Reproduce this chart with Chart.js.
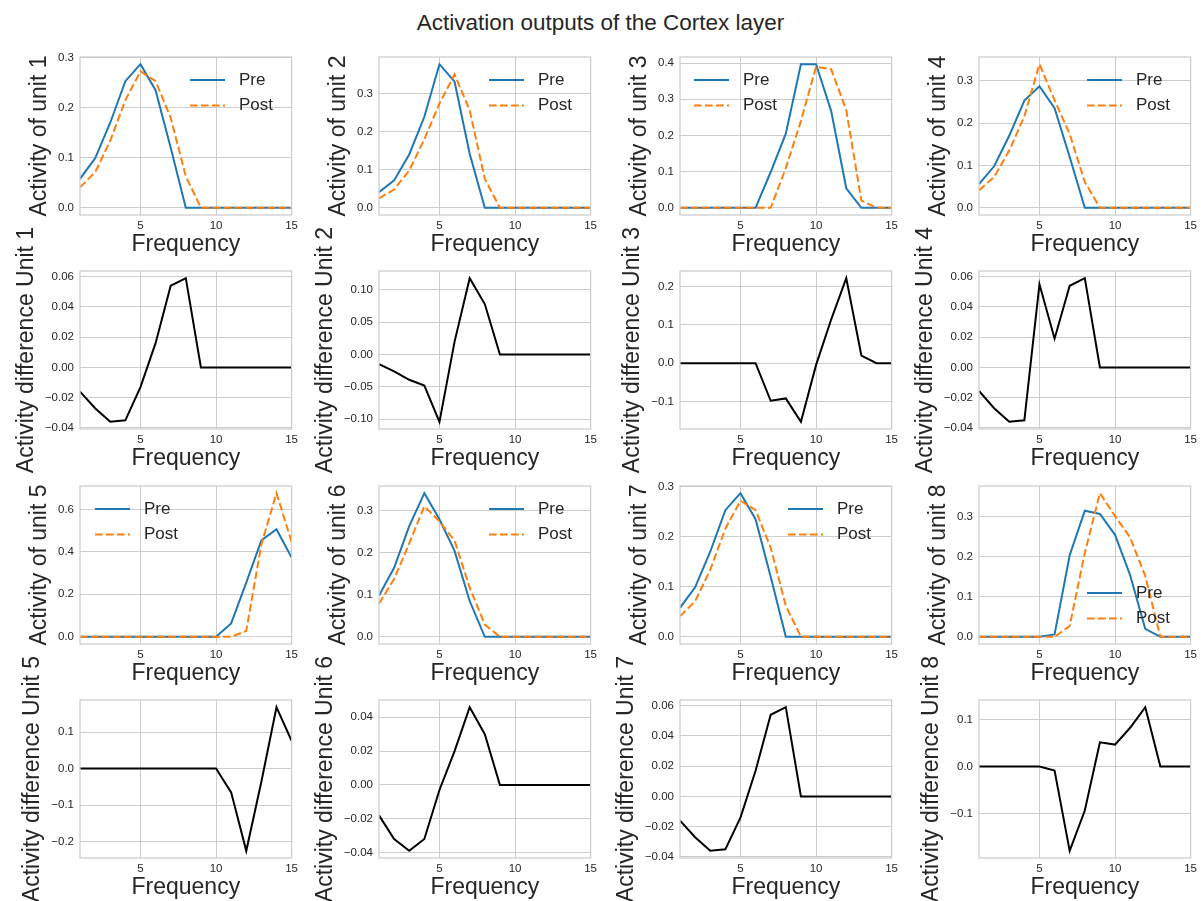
<!DOCTYPE html>
<html>
<head>
<meta charset="utf-8">
<title>Activation outputs of the Cortex layer</title>
<script src="https://cdn.jsdelivr.net/npm/chart.js@4.4.1/dist/chart.umd.min.js"></script>
<style>
    body { margin: 0; background: #fff; }
    #wrap { position: relative; width: 1201px; height: 901px; overflow: hidden; }
    #wrap canvas { position: absolute; }
    #title {
        position: absolute; left: 0; top: 10px; width: 1201px; text-align: center;
        font-family: "Liberation Sans", Arial, sans-serif; font-size: 22.5px; color: #262626;
    }
</style>
</head>
<body>
<div id="wrap"><div id="title">Activation outputs of the Cortex layer</div></div>
<script>
// Data
const freq = [1, 2, 3, 4, 5, 6, 7, 8, 9, 10, 11, 12, 13, 14, 15];

const pre1  = [0.058, 0.099, 0.17, 0.253, 0.287, 0.235, 0.12, 0, 0, 0, 0, 0, 0, 0, 0];
const post1 = [0.041, 0.071, 0.134, 0.215, 0.273, 0.253, 0.18, 0.063, 0, 0, 0, 0, 0, 0, 0];
const diff1 = [-0.016, -0.027, -0.036, -0.035, -0.013, 0.016, 0.054, 0.059, 0, 0, 0, 0, 0, 0, 0];

const pre2  = [0.041, 0.072, 0.14, 0.239, 0.377, 0.331, 0.142, 0, 0, 0, 0, 0, 0, 0, 0];
const post2 = [0.025, 0.048, 0.098, 0.18, 0.274, 0.35, 0.256, 0.076, 0, 0, 0, 0, 0, 0, 0];
const diff2 = [-0.015, -0.026, -0.039, -0.048, -0.104, 0.02, 0.118, 0.078, 0, 0, 0, 0, 0, 0, 0];

const pre3  = [0, 0, 0, 0, 0, 0, 0.099, 0.205, 0.397, 0.397, 0.268, 0.054, 0, 0, 0];
const post3 = [0, 0, 0, 0, 0, 0, 0, 0.11, 0.24, 0.39, 0.383, 0.27, 0.02, 0, 0];
const diff3 = [0, 0, 0, 0, 0, 0, -0.098, -0.092, -0.153, -0.005, 0.114, 0.222, 0.02, 0, 0];

const pre4  = [0.056, 0.098, 0.17, 0.253, 0.287, 0.235, 0.12, 0, 0, 0, 0, 0, 0, 0, 0];
const post4 = [0.041, 0.073, 0.135, 0.216, 0.339, 0.254, 0.174, 0.061, 0, 0, 0, 0, 0, 0, 0];
const diff4 = [-0.0156, -0.027, -0.036, -0.035, 0.055, 0.019, 0.054, 0.059, 0, 0, 0, 0, 0, 0, 0];

const pre5  = [0, 0, 0, 0, 0, 0, 0, 0, 0, 0, 0.063, 0.255, 0.454, 0.506, 0.373];
const post5 = [0, 0, 0, 0, 0, 0, 0, 0, 0, 0, 0, 0.028, 0.435, 0.676, 0.447];
const diff5 = [0, 0, 0, 0, 0, 0, 0, 0, 0, 0, -0.065, -0.225, -0.036, 0.168, 0.076];

const pre6  = [0.098, 0.164, 0.263, 0.341, 0.279, 0.204, 0.085, 0, 0, 0, 0, 0, 0, 0, 0];
const post6 = [0.079, 0.137, 0.222, 0.31, 0.274, 0.228, 0.117, 0.029, 0, 0, 0, 0, 0, 0, 0];
const diff6 = [-0.018, -0.032, -0.039, -0.032, -0.003, 0.02, 0.046, 0.03, 0, 0, 0, 0, 0, 0, 0];

const pre7  = [0.058, 0.099, 0.17, 0.253, 0.287, 0.235, 0.12, 0, 0, 0, 0, 0, 0, 0, 0];
const post7 = [0.041, 0.071, 0.134, 0.216, 0.272, 0.253, 0.178, 0.062, 0, 0, 0, 0, 0, 0, 0];
const diff7 = [-0.016, -0.027, -0.036, -0.035, -0.014, 0.017, 0.054, 0.059, 0, 0, 0, 0, 0, 0, 0];

const pre8  = [0, 0, 0, 0, 0, 0.006, 0.204, 0.315, 0.307, 0.255, 0.154, 0.02, 0, 0, 0];
const post8 = [0, 0, 0, 0, 0, 0, 0.027, 0.21, 0.359, 0.302, 0.248, 0.152, 0, 0, 0];
const diff8 = [0, 0, 0, 0, 0, -0.0086, -0.18, -0.094, 0.052, 0.047, 0.083, 0.127, 0, 0, 0];

// Tick labels
const xTicks = ['5', '10', '15'];
const actTicks3 = ['0.0', '0.1', '0.2', '0.3'];
const actTicks4 = ['0.0', '0.1', '0.2', '0.3', '0.4'];
const actTicks5 = ['0.0', '0.2', '0.4', '0.6'];
const diffTicksA = ['\u22120.04', '\u22120.02', '0.00', '0.02', '0.04', '0.06'];
const diffTicksB = ['\u22120.10', '\u22120.05', '0.00', '0.05', '0.10'];
const diffTicksC = ['\u22120.1', '0.0', '0.1', '0.2'];
const diffTicksD = ['\u22120.2', '\u22120.1', '0.0', '0.1'];
const diffTicksE = ['\u22120.04', '\u22120.02', '0.00', '0.02', '0.04'];
const diffTicksF = ['\u22120.1', '0.0', '0.1'];

// Layout of the grid
const FONT = '"Liberation Sans", Arial, sans-serif';
const plotLefts = [80, 379, 680, 979];
const plotTops = [57, 271, 486, 700];
const plotW = 212, plotH = 158;
// extra room above/below so long y titles are not cut by the canvas edge
const AXIS_W = 80, PAD_T = 60, PAD_R = 10, AXIS_H = 45, PAD_B = 30;

const panels = [
    // row 1
    { row: 0, col: 0, unit: 1, pre: pre1, post: post1, ticks: actTicks3, legend: [110, 23] },
    { row: 0, col: 1, unit: 2, pre: pre2, post: post2, ticks: actTicks3, legend: [110, 23] },
    { row: 0, col: 2, unit: 3, pre: pre3, post: post3, ticks: actTicks4, legend: [14, 23] },
    { row: 0, col: 3, unit: 4, pre: pre4, post: post4, ticks: actTicks3, legend: [108, 23] },
    // row 2
    { row: 1, col: 0, unit: 1, diff: diff1, ticks: diffTicksA },
    { row: 1, col: 1, unit: 2, diff: diff2, ticks: diffTicksB },
    { row: 1, col: 2, unit: 3, diff: diff3, ticks: diffTicksC },
    { row: 1, col: 3, unit: 4, diff: diff4, ticks: diffTicksA },
    // row 3
    { row: 2, col: 0, unit: 5, pre: pre5, post: post5, ticks: actTicks5, legend: [15, 23] },
    { row: 2, col: 1, unit: 6, pre: pre6, post: post6, ticks: actTicks3, legend: [110, 23] },
    { row: 2, col: 2, unit: 7, pre: pre7, post: post7, ticks: actTicks3, legend: [108, 23] },
    { row: 2, col: 3, unit: 8, pre: pre8, post: post8, ticks: actTicks3, legend: [108, 107] },
    // row 4
    { row: 3, col: 0, unit: 5, diff: diff5, ticks: diffTicksD },
    { row: 3, col: 1, unit: 6, diff: diff6, ticks: diffTicksE },
    { row: 3, col: 2, unit: 7, diff: diff7, ticks: diffTicksA },
    { row: 3, col: 3, unit: 8, diff: diff8, ticks: diffTicksF }
];

// legend drawn inside the axes like matplotlib does
const insideLegend = {
    id: 'insideLegend',
    afterDatasetsDraw(chart, args, opts) {
        if (!opts.at) return;
        const ctx = chart.ctx, area = chart.chartArea;
        ctx.save();
        ctx.font = '17px ' + FONT;
        ctx.textBaseline = 'middle';
        chart.data.datasets.forEach((ds, i) => {
            const x = area.left + opts.at[0];
            const y = area.top + opts.at[1] + i * 25.6;
            ctx.strokeStyle = ds.borderColor;
            ctx.lineWidth = ds.borderWidth;
            ctx.setLineDash(ds.borderDash || []);
            ctx.beginPath();
            ctx.moveTo(x, y);
            ctx.lineTo(x + 35, y);
            ctx.stroke();
            ctx.setLineDash([]);
            ctx.fillStyle = '#262626';
            ctx.fillText(ds.label, x + 49, y);
        });
        ctx.restore();
    }
};

// light grey box around each axes
const frameBox = {
    id: 'frameBox',
    afterDatasetsDraw(chart) {
        const ctx = chart.ctx, a = chart.chartArea;
        ctx.save();
        ctx.strokeStyle = '#cccccc';
        ctx.lineWidth = 1.25;
        ctx.strokeRect(a.left, a.top, a.right - a.left, a.bottom - a.top);
        ctx.restore();
    }
};

let measure = document.createElement('canvas').getContext('2d');
measure.font = '11.5px ' + FONT;

function toNum(s) {
    return parseFloat(s.replace('\u2212', '-'));
}

function points(ys) {
    return freq.map((x, i) => ({ x: x, y: ys[i] }));
}

function makePanel(p) {
    let wrap = document.getElementById('wrap');
    let canvas = document.createElement('canvas');
    canvas.width = AXIS_W + plotW + PAD_R;
    canvas.height = PAD_T + plotH + AXIS_H + PAD_B;
    canvas.style.left = (plotLefts[p.col] - AXIS_W) + 'px';
    canvas.style.top = (plotTops[p.row] - PAD_T) + 'px';
    wrap.appendChild(canvas);

    let datasets;
    let all;
    if (p.diff) {
        datasets = [{ label: 'Difference', data: points(p.diff), borderColor: '#000000', borderWidth: 2 }];
        all = p.diff;
    } else {
        datasets = [
            { label: 'Pre', data: points(p.pre), borderColor: '#1f77b4', borderWidth: 2, order: 1 },
            { label: 'Post', data: points(p.post), borderColor: '#ff7f0e', borderWidth: 2, borderDash: [7.7, 3.3], order: 0 }
        ];
        all = p.pre.concat(p.post);
    }
    // 5% margins like matplotlib autoscale
    let lo = Math.min(...all), hi = Math.max(...all);
    let margin = (hi - lo) * 0.05;

    let yVals = p.ticks.map(toNum);
    let widest = Math.max(...p.ticks.map(t => measure.measureText(t).width));
    let yTitlePad = 41.5 - widest;

    new Chart(canvas, {
        type: 'line',
        data: { datasets: datasets },
        options: {
            responsive: false,
            animation: false,
            devicePixelRatio: 1,
            layout: { padding: { top: PAD_T, right: PAD_R, left: 0, bottom: PAD_B } },
            elements: { point: { radius: 0 }, line: { tension: 0 } },
            plugins: {
                legend: { display: false },
                tooltip: { enabled: false },
                insideLegend: { at: p.legend || null }
            },
            scales: {
                x: {
                    type: 'linear',
                    min: 1,
                    max: 15,
                    afterBuildTicks: s => { s.ticks = xTicks.map(t => ({ value: toNum(t) })); },
                    afterFit: s => { s.height = AXIS_H; },
                    grid: { color: '#cccccc', lineWidth: 1, drawTicks: false },
                    border: { display: false },
                    ticks: {
                        padding: 4, autoSkip: false, maxRotation: 0,
                        color: '#262626', font: { family: FONT, size: 11.5 },
                        callback: (v, i) => xTicks[i]
                    },
                    title: {
                        display: true, text: 'Frequency', color: '#262626',
                        font: { family: FONT, size: 23 }, padding: { top: 0, bottom: 1.5 }
                    }
                },
                y: {
                    min: lo - margin,
                    max: hi + margin,
                    afterBuildTicks: s => { s.ticks = yVals.map(v => ({ value: v })); },
                    afterFit: s => { s.width = AXIS_W; },
                    grid: { color: '#cccccc', lineWidth: 1, drawTicks: false },
                    border: { display: false },
                    ticks: {
                        padding: 6, autoSkip: false,
                        color: '#262626', font: { family: FONT, size: 11.5 },
                        callback: (v, i) => p.ticks[i]
                    },
                    title: {
                        display: true,
                        text: p.diff ? 'Activity difference Unit ' + p.unit : 'Activity of unit ' + p.unit,
                        color: '#262626',
                        font: { family: FONT, size: 23 },
                        padding: { top: yTitlePad, bottom: 0 }
                    }
                }
            }
        },
        plugins: [frameBox, insideLegend]
    });
}

panels.forEach(makePanel);
</script>
</body>
</html>
